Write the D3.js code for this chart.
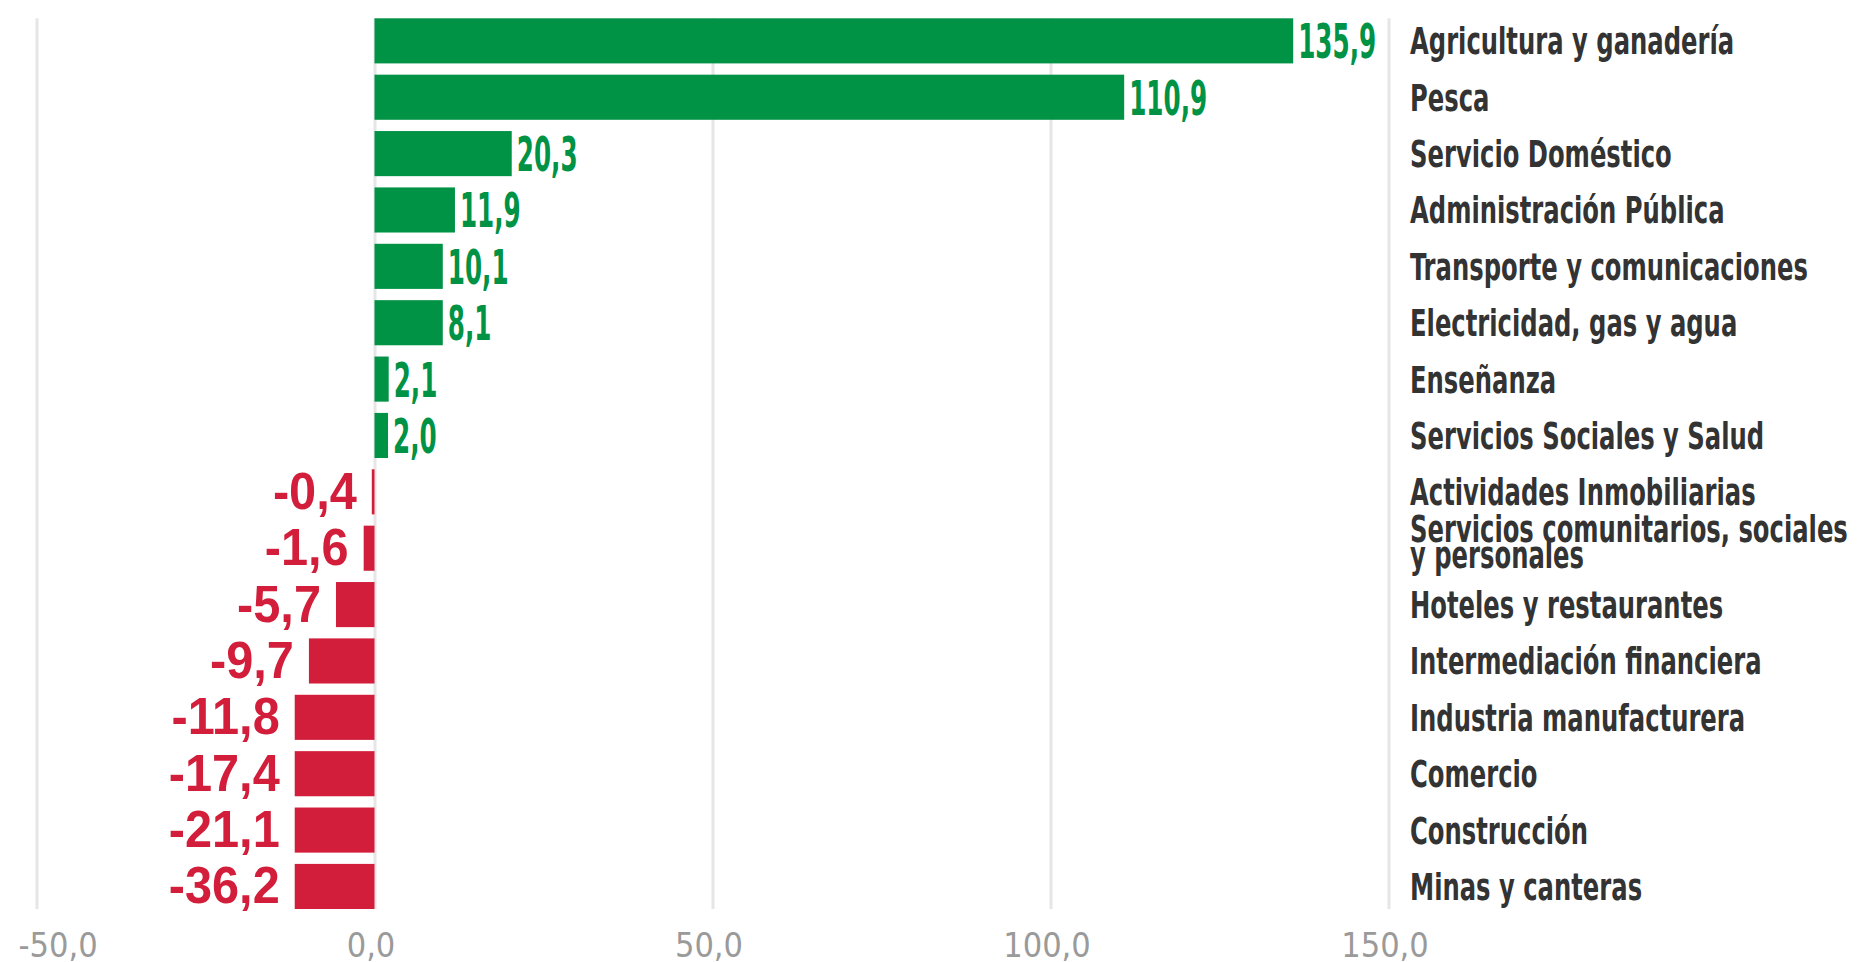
<!DOCTYPE html>
<html><head><meta charset="utf-8">
<script src="https://cdn.jsdelivr.net/npm/d3@7"></script>
<style>html,body{margin:0;padding:0;background:#fff;overflow:hidden}</style>
</head><body>
<svg id="c" width="1860" height="962"></svg>
<script>
const categories = [
  "Agricultura y ganadería","Pesca","Servicio Doméstico","Administración Pública",
  "Transporte y comunicaciones","Electricidad, gas y agua","Enseñanza","Servicios Sociales y Salud",
  "Actividades Inmobiliarias","Servicios comunitarios, sociales\ny personales","Hoteles y restaurantes",
  "Intermediación financiera","Industria manufacturera","Comercio","Construcción","Minas y canteras"
];
// values printed on the labels
const values = [135.9,110.9,20.3,11.9,10.1,8.1,2.1,2.0,-0.4,-1.6,-5.7,-9.7,-11.8,-17.4,-21.1,-36.2];
// bar lengths as drawn in the picture
const barValues = [135.9,110.9,20.3,11.9,10.1,10.1,2.1,2.0,-0.4,-1.6,-5.7,-9.7,-11.8,-11.8,-11.8,-11.8];
const tickValues = [-50,0,50,100,150];
const tickLabels = ["-50,0","0,0","50,0","100,0","150,0"];

const GREEN="#009245", RED="#d21e3a";
const NARROW="'Liberation Sans Narrow','Arial Narrow','DejaVu Sans Condensed',sans-serif";
const WIDE="'Liberation Sans','Arial',sans-serif";
const svg=d3.select("#c");
const x=d3.scaleLinear().domain([-50,150]).range([36.5,1388.5]);
const y=d3.scaleBand().domain(categories).range([18.3,909]).paddingInner(0.2).paddingOuter(0);
const fmt=v=>d3.format(".1f")(v).replace(".",",").replace("−","-");

// gridlines
const grid=svg.append("g").attr("transform",`translate(0,${y.range()[1]})`)
  .call(d3.axisBottom(x).tickValues(tickValues).tickSize(-(y.range()[1]-y.range()[0])).tickFormat(""));
grid.select(".domain").remove();
grid.selectAll("line").attr("stroke","#e6e6e6").attr("stroke-width",3);

// tick labels
const ax=svg.append("g").attr("transform","translate(0,957)")
  .call(d3.axisBottom(x).tickValues(tickValues).tickSize(0).tickPadding(0).tickFormat((d,i)=>tickLabels[i]));
ax.select(".domain").remove();
ax.selectAll("text").attr("y",0).attr("dy",0).attr("dx",-4)
  .attr("font-family",NARROW).attr("font-size",34).attr("fill","#9a9a9a");
ax.selectAll(".tick").each(function(d){
  const t=d3.select(this).select("text");
  const bb=t.node().getBBox();
  const left=x(d)+bb.x;
  if(left<18) t.attr("dx",-4+(18-left));
});

// bars
svg.append("g").selectAll("rect").data(categories).join("rect")
  .attr("x",(d,i)=>x(Math.min(0,barValues[i])))
  .attr("width",(d,i)=>Math.abs(x(barValues[i])-x(0)))
  .attr("y",d=>y(d)).attr("height",y.bandwidth())
  .attr("fill",(d,i)=>values[i]>=0?GREEN:RED);

// measurement helper
function measure(str,family,size,weight){
  const t=svg.append("text").attr("font-family",family).attr("font-size",size).attr("font-weight",weight).text(str);
  const w=t.node().getComputedTextLength(); t.remove(); return w;
}
const sxG=78/measure("135,9",NARROW,48,"bold");
const sxR=111/measure("-36,2",WIDE,52,"bold");
const sxC=398/measure("Transporte y comunicaciones",NARROW,38,"bold");

// value labels
const vl=svg.append("g");
categories.forEach((c,i)=>{
  const cy=y(c)+y.bandwidth()/2;
  if(values[i]>=0){
    vl.append("text").attr("transform",`translate(${x(barValues[i])+5},${cy+17.5}) scale(${sxG},1)`)
      .attr("font-family",NARROW).attr("font-size",48).attr("font-weight","bold").attr("fill",GREEN)
      .text(fmt(values[i]));
  } else {
    vl.append("text").attr("transform",`translate(${x(barValues[i])-15},${cy+17}) scale(${sxR},1)`)
      .attr("text-anchor","end")
      .attr("font-family",WIDE).attr("font-size",52).attr("font-weight","bold").attr("fill",RED)
      .text(fmt(values[i]));
  }
});

// category labels
const cl=svg.append("g");
categories.forEach(c=>{
  const cy=y(c)+y.bandwidth()/2;
  const lines=c.split("\n");
  const base = lines.length===1 ? cy+13.5 : cy-6.5;
  lines.forEach((ln,j)=>{
    cl.append("text").attr("transform",`translate(1410,${base+j*26.6}) scale(${sxC},1)`)
      .attr("font-family",NARROW).attr("font-size",38).attr("font-weight","bold").attr("fill","#333333")
      .text(ln);
  });
});
</script>
</body></html>
